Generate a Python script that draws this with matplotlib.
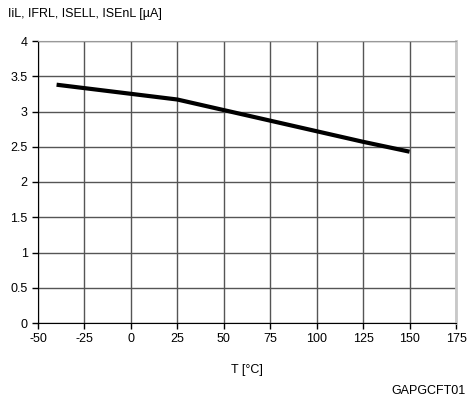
import matplotlib.pyplot as plt

# Current vs temperature
temp_c = [-40, 25, 50, 75, 100, 125, 150]
current_ua = [3.38, 3.17, 3.02, 2.87, 2.72, 2.57, 2.43]

x_ticks = [-50, -25, 0, 25, 50, 75, 100, 125, 150, 175]
y_ticks = [0, 0.5, 1, 1.5, 2, 2.5, 3, 3.5, 4]
y_tick_labels = ["0", "0.5", "1", "1.5", "2", "2.5", "3", "3.5", "4"]

plt.rcParams["font.family"] = ["Liberation Sans", "DejaVu Sans"]
plt.rcParams["font.size"] = 9
plt.rcParams["axes.unicode_minus"] = False  # plain hyphen like the reference

fig = plt.figure(figsize=(4.69, 4.05), dpi=100)
ax = fig.add_axes([38 / 469, 1 - 323 / 405, (456 - 38) / 469, (323 - 41) / 405])

ax.plot(temp_c, current_ua, color="black", linewidth=3, solid_capstyle="butt")

ax.set_xlim(-50, 175)
ax.set_ylim(0, 4)
ax.set_xticks(x_ticks)
ax.set_yticks(y_ticks)
ax.set_yticklabels(y_tick_labels)
ax.grid(True, color="#555555", linewidth=1)
ax.set_axisbelow(True)
ax.tick_params(direction="out", length=4.5, width=1, color="black", pad=3)

for side in ["left", "bottom"]:
    ax.spines[side].set_color("black")
ax.spines["top"].set_color("#999999")
ax.spines["right"].set_color("#c8c8c8")
ax.spines["right"].set_linewidth(2)

fig.text(8 / 469, 1 - 14 / 405, "IiL, IFRL, ISELL, ISEnL [µA]", ha="left", va="center")
fig.text(247 / 469, 1 - 370 / 405, "T [°C]", ha="center", va="center")
fig.text(466 / 469, 1 - 391 / 405, "GAPGCFT01", ha="right", va="center")

fig.savefig("out.png", dpi=100)
